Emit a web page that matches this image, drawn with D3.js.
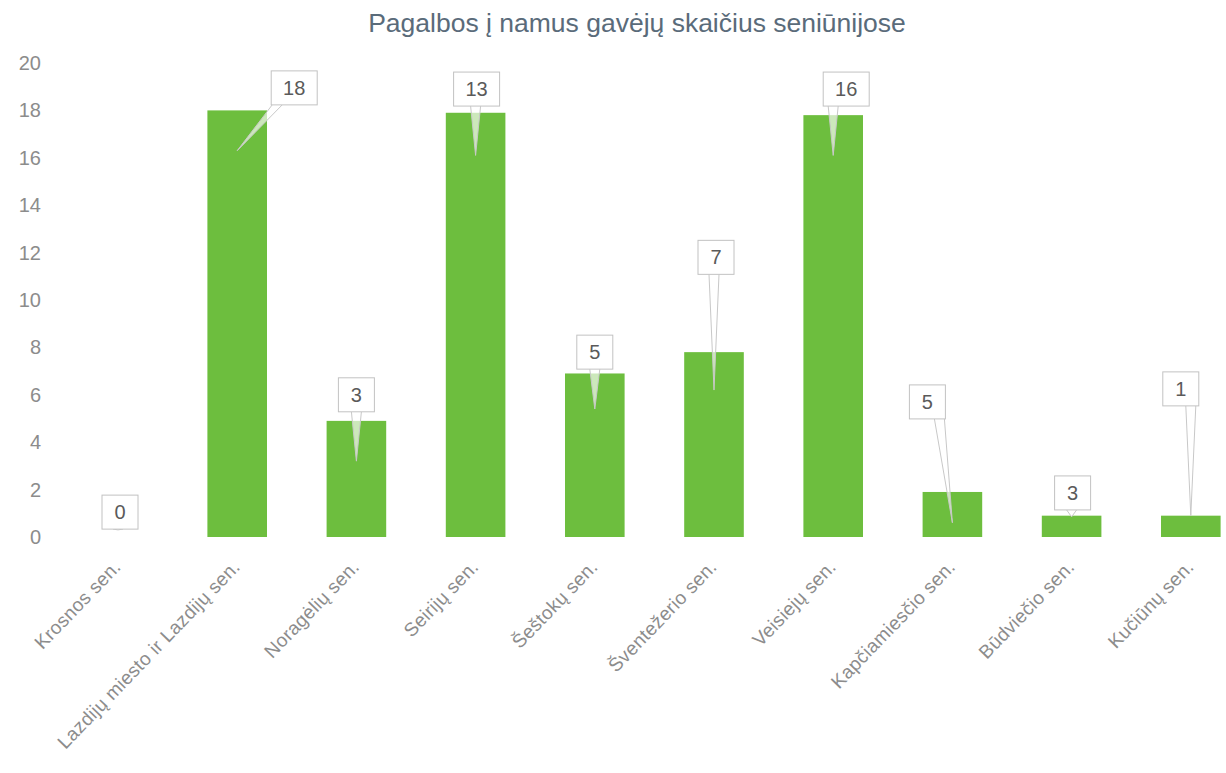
<!DOCTYPE html>
<html>
<head>
<meta charset="utf-8">
<script src="https://cdn.jsdelivr.net/npm/d3@7"></script>
<style>
    body { margin: 0; background: #fff; }
    svg { display: block; }
</style>
</head>
<body>
<svg id="chart"></svg>
<script>
// data
var categories = ["Krosnos sen.", "Lazdijų miesto ir Lazdijų sen.", "Noragėlių sen.", "Seirijų sen.",
    "Šeštokų sen.", "Šventežerio sen.", "Veisiejų sen.", "Kapčiamiesčio sen.", "Būdviečio sen.", "Kučiūnų sen."];
// bar heights as drawn
var barValues = [0, 18, 4.9, 17.9, 6.9, 7.8, 17.8, 1.9, 0.9, 0.9];
// numbers written in the callouts
var labelValues = [0, 18, 3, 13, 5, 7, 16, 5, 3, 1];
var yTicks = [0, 2, 4, 6, 8, 10, 12, 14, 16, 18, 20];
var title = "Pagalbos į namus gavėjų skaičius seniūnijose";

// callout placement (value level of the box and of the pointer tip)
var calloutLevel = [1.05, 18.95, 6.0, 18.9, 7.8, 11.8, 18.9, 5.7, 1.86, 6.25];
var pointerLevel = [0.3, 16.3, 3.2, 16.1, 5.4, 6.2, 16.1, 0.6, 0.85, 0.9];
var calloutShift = [2, 57, 0, 1, 0, 2, 13, -25, 1, -10];

var width = 1226, height = 773;

var svg = d3.select("#chart")
    .attr("width", width)
    .attr("height", height);

var x = d3.scaleBand()
    .domain(categories)
    .range([58.4, 1250.4])
    .paddingInner(0.5)
    .paddingOuter(0.25);

var y = d3.scaleLinear()
    .domain([0, 20])
    .range([537, 63]);

// title
svg.append("text")
    .attr("x", 637)
    .attr("y", 32)
    .attr("text-anchor", "middle")
    .style("font-family", "Liberation Sans, Arial, sans-serif")
    .style("font-size", "26.5px")
    .style("fill", "#5a6b7a")
    .text(title);

// y axis (labels only)
var yAxis = svg.append("g")
    .attr("transform", "translate(43,0)")
    .call(d3.axisLeft(y).tickValues(yTicks).tickSize(0).tickPadding(2));
yAxis.select(".domain").remove();
yAxis.selectAll("text")
    .style("font-family", "Liberation Sans, Arial, sans-serif")
    .style("font-size", "20px")
    .style("fill", "#8c8c8c");

// bars
svg.append("g").selectAll("rect")
    .data(categories)
    .enter().append("rect")
    .attr("x", d => x(d))
    .attr("width", x.bandwidth())
    .attr("y", (d, i) => y(barValues[i]))
    .attr("height", (d, i) => y(0) - y(barValues[i]))
    .style("fill", "#6dbe3e");

// category labels
svg.append("g").selectAll("text")
    .data(categories)
    .enter().append("text")
    .attr("transform", d => "translate(" + (x(d) + x.bandwidth() / 2 + 4) + ",568) rotate(-46)")
    .attr("text-anchor", "end")
    .style("font-family", "Liberation Sans, Arial, sans-serif")
    .style("font-size", "19px")
    .style("letter-spacing", "0.3px")
    .style("fill", "#8c8c8c")
    .text(d => d);

// callouts
var callouts = svg.append("g").selectAll("g")
    .data(categories)
    .enter().append("g");

callouts.each(function(d, i) {
    var g = d3.select(this);
    var cx = x(d) + x.bandwidth() / 2;
    var bx = cx + calloutShift[i];
    var by = y(calloutLevel[i]);
    var bw = String(labelValues[i]).length > 1 ? 46 : 36;
    var bh = 34;
    var tipX = cx, tipY = y(pointerLevel[i]);
    // base of the pointer on the lower edge, moved toward the tip
    var sx = Math.max(-bw / 2 + 6, Math.min(bw / 2 - 6, tipX - bx));
    var baseY = by + bh / 2;
    g.append("path")
        .attr("d", "M" + (bx + sx - 5) + "," + baseY + "L" + tipX + "," + tipY + "L" + (bx + sx + 5) + "," + baseY)
        .style("fill", "rgba(255,255,255,0.65)")
        .style("stroke", "#c8c8c8")
        .style("stroke-width", 1);
    g.append("rect")
        .attr("x", bx - bw / 2)
        .attr("y", by - bh / 2)
        .attr("width", bw)
        .attr("height", bh)
        .style("fill", "#fff")
        .style("stroke", "#c2c2c2")
        .style("stroke-width", 1);
    g.append("text")
        .attr("x", bx)
        .attr("y", by + 7)
        .attr("text-anchor", "middle")
        .style("font-family", "Liberation Sans, Arial, sans-serif")
        .style("font-size", "20px")
        .style("fill", "#5a5a5a")
        .text(labelValues[i]);
});
</script>
</body>
</html>
